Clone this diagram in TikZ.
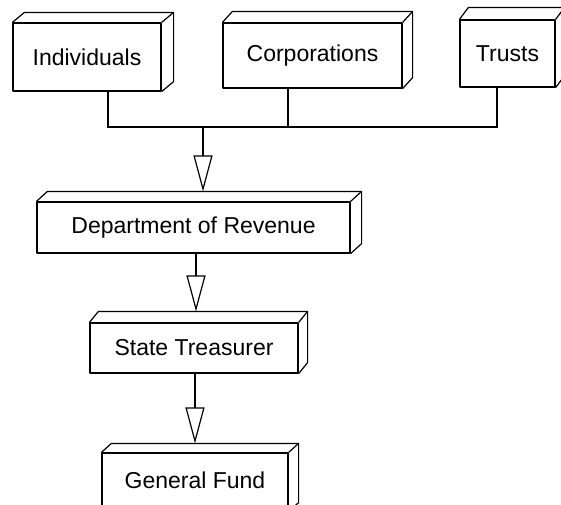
\documentclass[tikz,border=0pt]{standalone}
\usepackage{fontspec}
\setmainfont{Liberation Sans}
\usetikzlibrary{arrows.meta}
\tikzset{
  boxline/.style={line width=1.2pt, line join=round},
  frontbox/.style={boxline, draw, rectangle, inner sep=0pt, font=\fontsize{23}{26}\selectfont},
  conn/.style={line width=1.2pt},
  arr/.style={conn, -{Triangle[fill=white, length=36pt, width=19pt, line width=1.2pt]}}
}
\newcommand\extrude[3]{%
  \draw[boxline] (#1.north west) -- ++(#2,-#3) -| ([shift={(#2,-#3)}]#1.south east) -- (#1.south east);
  \draw[boxline] (#1.north east) -- ++(#2,-#3);
}
\begin{document}
\begin{tikzpicture}[x=1pt,y=-1pt]
\useasboundingbox (0,0) rectangle (561,504);
\clip (0,0) rectangle (561,504);
\node[frontbox, minimum width=148pt, minimum height=68pt] (ind) at (87,57) {Individuals};
\node[frontbox, minimum width=179pt, minimum height=65pt] (corp) at (312.5,55.5) {Corporations};
\node[frontbox, minimum width=95pt, minimum height=67pt] (trust) at (507.5,53.5) {Trusts};
\node[frontbox, minimum width=313pt, minimum height=51pt] (dept) at (193.5,227.5) {Department of Revenue};
\node[frontbox, minimum width=208pt, minimum height=50pt] (st) at (194,348) {State Treasurer};
\node[frontbox, minimum width=186pt, minimum height=58pt] (gf) at (195,482) {\raisebox{3pt}{General Fund}};
\extrude{ind}{12}{10}
\extrude{corp}{10}{11}
\extrude{trust}{9}{12}
\extrude{dept}{11}{10}
\extrude{st}{9}{11}
\extrude{gf}{10}{9}
\coordinate (bus) at (203,127);
\draw[conn] ([xshift=21pt]ind.south) |- (bus);
\draw[conn] ([xshift=-10.5pt]trust.south) |- (bus);
\draw[conn] ([xshift=-24.5pt]corp.south) -- ([xshift=-24.5pt]corp.south |- bus);
\draw[arr] (bus) -- ([yshift=10pt]bus |- dept.north);
\draw[arr] ([xshift=2.5pt]dept.south) -- ([xshift=2.5pt,yshift=11pt]dept.south |- st.north);
\draw[arr] ([xshift=1pt]st.south) -- ([xshift=1pt,yshift=9pt]st.south |- gf.north);
\end{tikzpicture}
\end{document}
